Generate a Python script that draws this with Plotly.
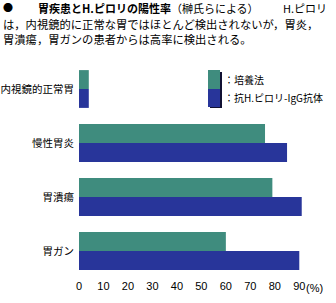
import plotly.graph_objects as go

categories = ["内視鏡的正常胃", "慢性胃炎", "胃潰瘍", "胃ガン"]
culture = [4, 76, 79, 60]          # 培養法
igg = [4, 85, 91, 90]              # 抗H.ピロリ-IgG抗体
tick_vals = [0, 10, 20, 30, 40, 50, 60, 70, 80, 90]
tick_text = ["0", "10", "20", "30", "40", "50", "60", "70", "80", "90"]

W, H = 336, 303
ML, MR, MT, MB = 79, 0, 62, 25
PW, PH = W - ML - MR, H - MT - MB

def px(x):
    return (x - ML) / PW

def py(y):
    return (H - MB - y) / PH

GREEN = "#3f8c7e"
BLUE = "#28359a"
FONT = "Noto Sans CJK JP"

fig = go.Figure()
fig.add_trace(go.Bar(y=categories, x=culture, orientation="h", name="培養法",
                     marker=dict(color=GREEN, line=dict(width=0))))
fig.add_trace(go.Bar(y=categories, x=igg, orientation="h", name="抗H.ピロリ-IgG抗体",
                     marker=dict(color=BLUE, line=dict(width=0))))

fig.update_layout(
    width=W, height=H,
    margin=dict(l=ML, r=MR, t=MT, b=MB),
    paper_bgcolor="white", plot_bgcolor="white",
    barmode="group", bargap=0.3, bargroupgap=0,
    showlegend=False,
    font=dict(family=FONT, color="black", size=10),
    xaxis=dict(range=[0, 105], tickvals=tick_vals, ticktext=tick_text,
               showgrid=False, zeroline=False, showline=False, ticks="",
               tickfont=dict(size=11, family="Liberation Sans")),
    yaxis=dict(autorange="reversed", showgrid=False, zeroline=False,
               showline=False, ticks="", ticklabelstandoff=4,
               tickfont=dict(size=10.5, family=FONT)),
)

ann = []
def text(x, y, s, size=11, anchor="left", family=FONT):
    ann.append(dict(x=px(x), y=py(y), xref="paper", yref="paper", text=s,
                    showarrow=False, xanchor=anchor, yanchor="middle",
                    font=dict(size=size, family=family, color="black")))

text(1, 7, "●", 10)
text(36, 8, "<b>胃疾患とH.ピロリの陽性率</b>（榊氏らによる）", 11)
text(281, 8, "H.ピロリ", 11)
text(1, 24, "は，内視鏡的に正常な胃ではほとんど検出されないが，胃炎，", 11.3)
text(1, 39, "胃潰瘍，胃ガンの患者からは高率に検出される。", 11.3)
text(222, 79, "：培養法", 10)
text(222, 97, "：抗H.ピロリ-IgG抗体", 10)
text(304, 288, "(%)", 11, family="Liberation Sans")
fig.update_layout(annotations=ann)

shapes = [
    dict(type="rect", xref="paper", yref="paper", x0=px(210), x1=px(222),
         y0=py(108), y1=py(72), fillcolor="#111133", line=dict(width=0)),
    dict(type="rect", xref="paper", yref="paper", x0=px(208), x1=px(220),
         y0=py(89), y1=py(70), fillcolor=GREEN, line=dict(width=0)),
    dict(type="rect", xref="paper", yref="paper", x0=px(208), x1=px(220),
         y0=py(107), y1=py(89), fillcolor=BLUE, line=dict(width=0)),
]
fig.update_layout(shapes=shapes)

fig.write_html("out.html")
